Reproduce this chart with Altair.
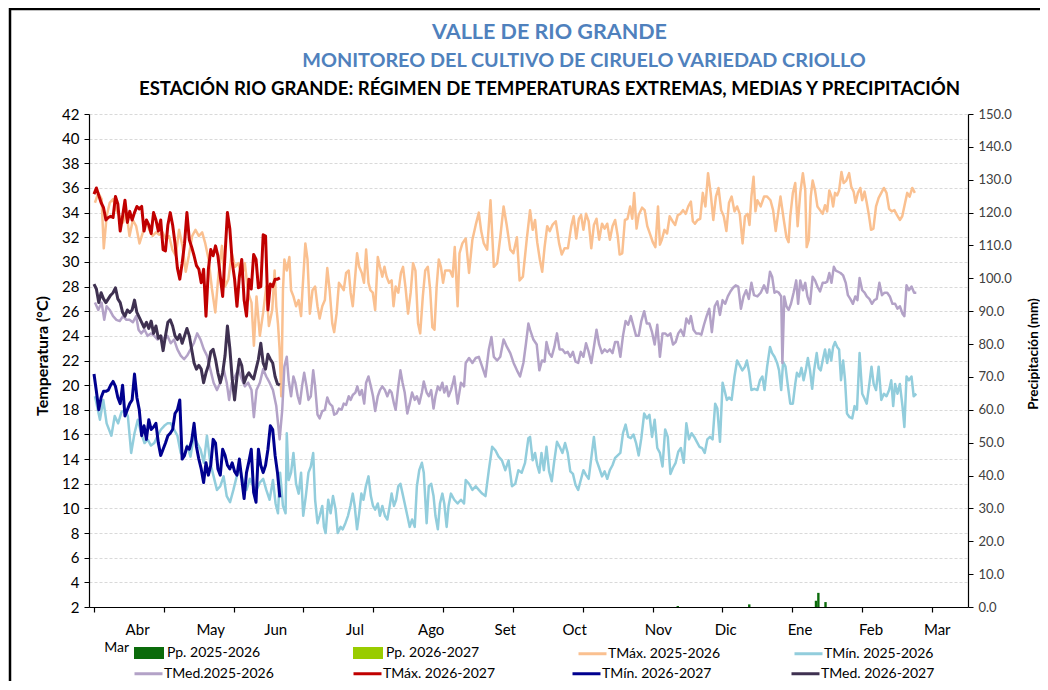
import altair as alt
import pandas as pd

TITLE_1 = "VALLE DE RIO GRANDE"
TITLE_2 = "MONITOREO DEL CULTIVO DE CIRUELO VARIEDAD CRIOLLO"
TITLE_3 = "ESTACIÓN RIO GRANDE: RÉGIMEN DE TEMPERATURAS EXTREMAS, MEDIAS Y PRECIPITACIÓN"

PP_NAMES = ["Pp. 2025-2026", "Pp. 2026-2027"]
ST_NAMES = ["TMáx. 2025-2026", "TMín. 2025-2026"]
CO_NAMES = ["TMed.2025-2026", "TMáx. 2026-2027", "TMín. 2026-2027", "TMed. 2026-2027"]

MONTHS = ["Abr", "May", "Jun", "Jul", "Ago", "Set", "Oct", "Nov", "Dic", "Ene", "Feb", "Mar"]
MONTH_DAY = [18.3, 49.0, 76.3, 109.5, 141.5, 172.6, 201.7, 236.9, 265.1, 296.3, 326.1, 353.9]

# precipitation 2025-2026 (day of season, mm)
PP_DAY = [245, 275, 303, 304, 307]
PP_2526 = [0.3, 0.8, 1.9, 4.3, 1.5]

# 2026-2027 daily series (day 0 onward)
TMAX_2627 = [35.5, 36.0, 35.4, 34.8, 34.4, 33.4, 33.6, 33.7, 33.6, 35.3, 34.7, 32.5, 33.7, 35.0, 33.2, 34.1,
             33.4, 34.0, 34.5, 34.3, 34.5, 32.5, 33.4, 33.0, 32.3, 34.0, 33.4, 32.5, 33.4, 31.0, 30.9, 33.0,
             34.0, 33.0, 31.5, 29.5, 28.6, 29.9, 31.5, 34.0, 31.8, 31.2, 30.5, 29.7, 29.4, 28.3, 29.4, 25.6,
             29.4, 31.0, 30.5, 31.3, 30.5, 28.8, 27.2, 30.6, 34.0, 32.7, 30.0, 28.6, 26.4, 28.8, 30.2, 26.9,
             25.6, 28.6, 27.8, 30.6, 30.2, 27.9, 28.0, 32.2, 32.1, 26.1, 28.2, 28.0, 28.6, 28.6, 28.7]
TMED_2627 = [28.2, 27.8, 26.7, 27.5, 27.0, 26.7, 27.0, 27.3, 27.5, 27.9, 27.0, 26.7, 25.9, 25.6, 26.1, 25.9,
             26.1, 26.9, 25.9, 25.5, 25.1, 24.7, 25.1, 24.6, 25.2, 24.2, 24.8, 23.8, 24.0, 22.8, 24.0, 25.1,
             25.3, 24.8, 24.0, 23.7, 24.1, 23.4, 24.0, 24.6, 24.0, 22.9, 21.8, 21.3, 21.6, 21.3, 20.2, 21.0,
             21.6, 22.7, 22.9, 22.1, 21.0, 20.2, 21.0, 22.4, 24.8, 23.0, 20.5, 18.8, 20.7, 22.1, 21.6, 20.2,
             20.7, 21.0, 20.7, 20.5, 21.3, 22.1, 23.4, 21.8, 21.3, 22.5, 22.1, 21.8, 20.7, 20.1, 20.0]
TMIN_2627 = [20.9, 19.5, 18.0, 19.0, 19.5, 19.5, 19.6, 20.0, 20.3, 19.9, 19.0, 18.5, 20.0, 17.5, 18.0, 18.5,
             18.8, 20.9, 19.0, 18.0, 15.9, 16.7, 15.6, 17.2, 16.4, 16.6, 16.9, 15.3, 14.3, 14.8, 15.3, 15.9,
             16.1, 16.4, 17.7, 18.0, 18.8, 14.0, 14.3, 15.0, 14.8, 15.5, 16.9, 15.0, 14.0, 13.2, 12.1, 13.7,
             12.7, 13.5, 15.6, 15.3, 13.2, 12.7, 14.8, 14.3, 13.5, 13.2, 13.7, 13.0, 12.7, 14.0, 12.4, 10.8,
             12.9, 13.8, 14.8, 11.3, 10.5, 14.8, 13.5, 12.9, 13.5, 14.8, 16.7, 16.4, 14.3, 12.9, 10.9]

# 2025-2026 series as (day of season, °C)
TMAX_2526 = [
    (0.4, 34.8), (1.8, 35.6), (3.2, 35.1), (4.1, 31.1), (5.3, 33.7), (6.6, 34.8), (8.0, 35.1), (9.4, 34.2),
    (10.8, 33.7), (12.2, 33.2), (13.6, 34.0), (14.9, 32.1), (16.3, 33.4), (17.7, 32.9), (19.1, 31.5),
    (20.5, 32.4), (21.9, 33.4), (23.2, 32.6), (24.6, 32.1), (26.0, 32.4), (27.4, 32.2), (28.8, 32.4),
    (30.2, 31.8), (31.5, 32.1), (32.9, 31.0), (34.3, 30.5), (35.7, 32.6), (37.1, 31.3), (38.5, 29.2),
    (39.8, 30.5), (41.2, 32.1), (42.6, 32.6), (44.0, 32.1), (45.4, 32.4), (46.7, 31.5), (48.1, 30.2),
    (49.5, 27.8), (50.9, 25.9), (52.3, 29.1), (53.7, 31.3), (55.0, 28.0), (56.4, 28.6), (57.8, 30.7),
    (59.2, 29.6), (60.6, 29.9), (62.0, 28.8), (63.3, 29.9), (64.7, 27.5), (66.1, 26.7), (67.1, 23.2),
    (68.2, 27.2), (69.6, 24.0), (71.0, 25.9), (72.3, 28.0), (73.4, 24.8), (74.8, 26.1),
    (75.8, 29.3), (76.5, 26.4), (77.2, 25.0), (77.9, 22.9), (78.6, 19.1), (79.3, 27.7), (79.9, 30.2),
    (80.9, 29.3), (82.0, 30.4), (82.7, 27.7), (83.7, 27.2), (84.8, 26.4), (85.9, 26.9), (86.9, 25.6),
    (87.5, 27.7), (88.7, 31.5), (89.6, 30.2), (90.6, 25.8), (91.7, 27.7), (92.8, 28.0), (93.8, 26.4),
    (94.7, 25.4), (95.8, 26.4), (96.9, 26.9), (97.9, 29.5), (98.9, 27.7), (100.0, 25.0), (100.8, 24.3),
    (101.8, 25.8), (102.8, 28.3), (103.9, 28.0), (104.8, 27.7), (105.8, 29.1), (106.9, 29.3),
    (107.7, 27.5), (108.6, 26.4), (109.4, 28.3), (110.4, 30.7), (111.3, 29.6), (112.4, 29.1),
    (113.3, 28.3), (114.2, 31.0), (115.2, 28.3), (116.0, 27.7), (117.0, 27.5), (118.0, 26.1),
    (119.1, 30.4), (120.0, 29.6), (121.0, 28.8), (121.9, 29.6), (122.8, 28.8), (123.8, 28.3),
    (124.9, 28.5), (125.7, 26.4), (126.6, 28.0), (127.7, 27.5), (128.8, 29.1), (129.7, 29.6),
    (130.7, 28.0), (131.8, 25.8), (132.9, 27.5), (133.9, 29.9), (134.9, 29.3), (136.0, 25.0),
    (136.9, 24.2), (138.0, 27.2), (139.0, 29.3), (140.1, 29.6), (141.1, 27.7), (142.0, 24.7),
    (142.9, 24.5), (143.8, 28.0), (144.7, 30.2), (145.6, 29.6), (146.5, 28.3), (147.4, 29.3),
    (148.4, 29.3), (149.4, 29.3), (150.5, 28.8),
    (151.4, 31.2), (152.6, 26.4), (153.4, 30.7), (154.6, 31.5), (156.0, 31.9), (157.4, 29.1),
    (158.8, 31.8), (160.2, 33.0), (161.5, 34.0), (162.5, 32.5), (163.6, 31.5), (165.0, 31.0),
    (166.4, 35.0), (167.8, 29.6), (169.2, 29.9), (170.5, 32.0), (171.9, 34.5), (173.2, 33.0),
    (174.7, 31.0), (176.0, 30.7), (177.5, 32.0), (178.6, 28.5), (180.0, 28.8), (181.6, 31.8),
    (183.0, 34.2), (184.1, 32.6), (185.1, 33.4), (186.0, 31.6), (187.1, 30.2), (188.1, 29.2),
    (189.1, 31.2), (190.2, 32.9), (191.3, 32.5), (192.4, 33.0), (193.8, 33.3), (195.2, 31.5),
    (196.3, 30.6), (197.5, 31.1), (198.9, 31.1), (200.3, 32.9), (201.3, 33.7), (202.4, 31.9),
    (203.5, 33.5), (204.4, 33.8), (205.4, 32.6), (206.5, 33.9), (207.6, 33.3), (208.7, 31.1),
    (209.8, 33.0), (210.9, 33.5), (212.0, 31.8), (213.2, 33.1), (214.3, 32.7), (215.4, 33.1),
    (216.5, 31.8), (217.6, 32.9), (218.7, 33.4), (219.8, 32.1), (220.6, 30.6), (221.7, 30.7),
    (222.8, 33.4), (223.9, 33.5), (225.0, 34.5), (225.9, 33.5), (226.7, 35.6), (227.7, 32.7),
    (228.6, 33.8), (230.0, 34.4), (231.1, 34.2), (232.2, 32.9), (233.3, 32.3), (234.5, 31.6),
    (235.6, 31.2), (236.7, 34.5), (237.5, 31.4), (238.3, 31.8), (239.4, 32.6), (240.5, 32.3),
    (241.6, 33.7), (242.8, 33.3), (243.9, 33.0), (245.0, 33.8), (246.1, 33.9), (247.2, 34.2),
    (248.3, 33.9), (249.4, 34.5), (250.5, 34.9), (251.3, 33.3), (252.2, 33.1), (253.3, 33.4),
    (254.4, 33.5), (255.5, 35.6), (256.6, 34.5), (257.7, 37.2), (258.8, 35.6), (259.9, 33.4),
    (261.0, 35.3), (262.1, 36.0), (263.2, 34.2), (264.3, 33.7), (265.4, 32.5), (266.5, 34.8),
    (267.6, 35.3), (268.8, 34.1), (269.9, 34.5), (271.0, 33.9), (272.2, 31.5), (273.2, 33.7),
    (274.3, 33.9), (275.1, 33.0), (275.9, 35.3), (276.8, 36.9), (277.6, 34.1),
    (278.4, 35.0), (279.8, 34.5), (281.2, 35.3), (282.5, 35.3), (283.9, 35.0), (285.0, 34.2),
    (286.1, 32.5), (287.3, 34.2), (288.1, 35.3), (289.5, 33.4), (290.6, 32.0), (291.5, 31.6),
    (292.2, 33.7), (293.3, 35.6), (294.3, 36.4), (295.3, 32.9), (296.4, 35.6), (297.5, 37.2),
    (298.5, 35.8), (299.1, 31.2), (300.0, 31.8), (300.8, 35.3), (301.6, 36.6), (302.6, 35.8),
    (303.6, 34.5), (304.7, 34.2), (305.8, 33.9), (306.8, 34.6), (307.7, 34.1), (308.6, 35.8),
    (309.5, 35.3), (310.2, 34.5), (311.0, 35.6), (311.9, 35.4), (312.7, 35.8), (313.7, 37.3),
    (314.6, 36.4), (315.7, 36.6), (316.9, 37.2), (317.8, 36.1), (318.8, 35.7), (319.6, 34.8),
    (320.6, 35.6), (321.6, 36.0), (322.4, 35.0), (323.4, 35.7), (324.3, 34.8), (325.2, 33.8),
    (326.1, 32.6), (327.1, 32.7), (328.2, 34.5), (329.3, 35.2), (330.4, 35.6), (331.5, 36.0),
    (332.6, 35.6), (333.7, 34.3), (334.8, 34.1), (335.9, 34.2), (337.0, 33.8), (338.2, 33.4),
    (339.2, 33.7), (340.4, 34.8), (341.3, 35.6), (342.3, 35.3), (343.4, 36.0), (344.5, 35.6),
]

TMED_2526 = [
    (0.4, 26.7), (1.8, 26.1), (3.2, 26.7), (4.3, 25.3), (5.3, 26.4), (6.6, 26.1), (8.0, 25.6), (9.4, 25.3),
    (10.8, 25.2), (12.2, 25.6), (13.6, 25.3), (14.9, 25.3), (16.3, 25.1), (17.7, 25.6), (18.7, 24.5),
    (19.8, 24.2), (21.2, 24.5), (22.5, 24.0), (23.9, 24.2), (25.3, 24.0), (26.7, 23.7), (28.1, 24.0),
    (29.5, 23.7), (30.8, 24.0), (32.2, 23.4), (33.6, 23.7), (35.0, 22.9), (36.4, 22.4), (37.8, 22.1),
    (39.1, 22.4), (40.5, 22.9), (41.9, 23.4), (43.3, 24.2), (44.7, 23.7), (46.1, 22.9), (47.4, 22.4),
    (48.8, 21.3), (50.2, 20.2), (51.6, 19.6), (53.0, 20.2), (54.4, 21.3), (55.7, 20.2), (56.7, 18.8),
    (57.8, 20.2), (59.2, 20.7), (60.6, 21.3), (62.0, 20.5), (63.3, 19.9), (64.7, 20.2), (66.1, 19.6),
    (67.1, 17.4), (68.2, 19.6), (69.6, 20.2), (71.0, 21.3), (72.3, 20.7), (73.7, 20.2), (75.1, 19.6),
    (76.5, 18.3), (77.9, 15.6), (79.0, 18.0), (79.9, 21.5), (80.9, 22.3), (81.7, 20.4), (82.7, 19.1),
    (83.7, 20.7), (84.5, 20.2), (85.5, 19.1), (86.4, 18.5), (87.3, 19.9), (88.2, 21.0), (89.2, 19.9),
    (90.0, 18.8), (91.0, 19.1), (92.0, 21.2), (92.8, 19.9), (93.8, 17.6), (94.7, 17.3), (95.8, 17.9),
    (96.9, 18.0), (97.9, 19.0), (98.9, 18.5), (100.0, 18.3), (100.8, 17.6), (101.8, 17.7), (102.8, 18.1),
    (103.9, 18.0), (104.8, 18.5), (105.8, 18.4), (106.9, 19.1), (107.7, 18.8), (108.6, 19.2),
    (109.7, 19.4), (110.5, 19.9), (111.5, 19.2), (112.4, 19.6), (113.4, 18.5), (114.2, 20.2),
    (115.2, 20.7), (116.2, 19.9), (117.1, 19.1), (118.0, 17.9), (119.1, 19.1), (120.0, 19.6),
    (121.0, 19.9), (122.1, 19.6), (123.1, 19.1), (124.1, 19.6), (124.9, 19.4), (125.9, 18.5),
    (126.6, 18.0), (127.7, 19.9), (128.6, 21.2), (129.5, 20.2), (130.4, 19.4), (131.5, 17.7),
    (132.5, 18.5), (133.5, 19.4), (134.6, 18.8), (135.5, 19.1), (136.5, 18.5), (137.6, 19.4),
    (138.4, 20.3), (139.6, 19.4), (140.5, 19.1), (141.5, 19.6), (142.5, 18.1), (143.3, 19.1),
    (144.3, 19.9), (145.2, 19.6), (146.2, 20.2), (147.0, 19.4), (148.0, 19.9), (148.8, 19.1),
    (149.8, 19.6), (150.8, 20.3),
    (151.2, 20.7), (152.6, 18.5), (154.0, 20.2), (155.3, 19.9), (156.0, 21.8), (157.4, 22.2),
    (158.8, 21.8), (160.2, 22.2), (161.5, 22.3), (162.9, 21.5), (164.3, 20.7), (165.7, 22.9),
    (166.8, 23.9), (167.8, 22.3), (169.2, 22.0), (170.5, 22.3), (171.9, 23.7), (173.3, 23.1),
    (174.7, 22.6), (176.1, 21.8), (177.5, 21.2), (178.8, 20.7), (180.2, 21.8), (181.3, 23.4),
    (182.3, 25.0),
    (183.0, 24.5), (184.4, 23.7), (185.8, 23.3), (186.9, 21.2), (188.0, 22.0), (189.1, 21.9),
    (189.9, 23.5), (191.0, 22.6), (192.1, 22.3), (193.2, 23.1), (194.3, 24.2), (195.4, 22.9),
    (196.6, 22.9), (197.7, 22.6), (198.8, 22.7), (199.9, 22.3), (201.0, 22.7), (202.1, 21.9),
    (203.2, 21.8), (204.3, 22.7), (205.4, 22.3), (206.5, 23.4), (207.6, 22.7), (208.7, 21.8),
    (209.8, 23.1), (210.9, 24.5), (212.0, 23.3), (213.2, 22.6), (214.3, 22.9), (215.4, 22.7),
    (216.5, 22.9), (217.6, 22.6), (218.7, 23.5), (219.8, 23.5), (220.9, 22.3), (222.0, 24.0),
    (223.1, 25.2), (224.2, 24.9), (225.3, 25.6), (226.4, 24.8), (227.5, 24.0), (228.6, 24.0),
    (229.7, 25.2), (230.9, 26.0), (232.0, 25.0), (233.1, 25.0), (234.2, 24.3), (235.3, 23.3),
    (236.4, 24.9), (237.5, 22.3), (238.6, 24.2), (239.7, 24.2), (240.8, 24.0), (241.9, 24.2),
    (243.0, 23.3), (244.1, 23.5), (245.2, 24.2), (246.3, 24.5), (247.5, 24.0), (248.6, 25.4),
    (249.7, 25.0), (250.5, 25.6), (251.6, 24.5), (252.7, 24.2), (253.8, 24.2), (254.9, 24.1),
    (256.0, 24.9), (257.1, 25.6), (258.2, 26.2), (259.3, 24.3), (260.5, 26.4), (261.6, 26.8),
    (262.7, 25.7), (263.8, 26.9), (264.9, 26.6), (266.0, 27.2), (267.1, 27.6), (268.2, 27.9),
    (269.3, 28.1), (270.4, 28.0), (271.5, 26.2), (272.6, 27.2), (273.7, 27.7), (274.8, 27.0),
    (275.9, 28.3), (277.0, 27.3),
    (278.4, 27.2), (279.8, 27.5), (281.2, 28.1), (282.5, 27.5), (283.7, 29.2), (284.6, 28.8),
    (285.6, 27.5), (286.4, 27.6), (287.4, 27.5), (288.4, 27.2), (288.9, 21.8), (289.7, 27.2),
    (290.6, 26.4), (291.5, 26.1), (292.5, 26.6), (293.6, 27.5), (294.7, 28.5), (295.5, 26.6),
    (296.4, 28.5), (297.5, 27.7), (298.5, 28.3), (299.4, 27.2), (300.5, 26.6), (301.6, 28.8),
    (302.6, 28.5), (303.6, 28.0), (304.7, 27.6), (305.8, 28.3), (306.8, 28.3), (307.7, 28.4),
    (308.6, 29.1), (309.5, 28.3), (310.5, 29.6), (311.3, 29.3), (312.3, 29.2), (313.3, 29.1),
    (314.4, 28.9), (315.5, 28.3), (316.4, 27.3), (317.4, 27.0), (318.5, 26.6), (319.5, 27.2),
    (320.4, 26.9), (321.3, 28.7), (322.4, 27.7), (323.4, 27.5), (324.3, 27.2), (325.4, 27.0),
    (326.5, 26.6), (327.5, 26.9), (328.5, 27.0), (329.6, 28.3), (330.7, 27.3), (331.8, 27.5),
    (332.9, 27.5), (334.0, 27.2), (335.1, 26.6), (336.2, 26.6), (337.2, 26.2), (338.2, 26.4),
    (339.3, 25.8), (340.1, 25.6), (341.0, 28.1), (342.0, 27.7), (343.1, 28.0), (344.2, 27.5),
    (345.1, 27.5),
]

TMIN_2526 = [
    (0.4, 19.1), (2.5, 17.2), (3.9, 18.8), (5.3, 16.9), (7.3, 15.9), (8.7, 17.5), (10.1, 16.9),
    (11.5, 17.8), (12.9, 18.0), (14.2, 17.5), (15.6, 14.5), (17.0, 16.1), (18.4, 17.2), (19.8, 16.1),
    (21.2, 15.3), (22.5, 15.6), (23.9, 15.1), (25.3, 15.3), (26.7, 15.9), (28.1, 16.4), (29.5, 16.7),
    (30.8, 16.9), (32.2, 16.9), (33.6, 16.4), (35.0, 15.9), (36.4, 14.5), (37.8, 14.2), (39.1, 15.1),
    (40.5, 14.2), (41.9, 15.9), (43.3, 15.3), (44.7, 14.8), (46.1, 13.7), (47.4, 15.9), (48.8, 13.7),
    (50.2, 12.6), (51.6, 11.5), (53.0, 11.8), (54.4, 12.6), (55.7, 11.0), (57.1, 10.5), (58.5, 11.5),
    (59.9, 12.6), (61.3, 13.2), (62.7, 12.1), (64.0, 11.5), (65.4, 12.4), (66.8, 11.8), (68.2, 11.5),
    (69.6, 12.1), (71.0, 12.4), (72.3, 11.5), (73.7, 10.7),
    (75.1, 12.3), (76.2, 10.4), (77.2, 9.6), (78.1, 12.9), (79.3, 10.2), (80.4, 9.6), (80.9, 16.1),
    (81.7, 12.3), (82.7, 12.9), (83.7, 14.5), (84.8, 12.0), (85.9, 11.2), (86.9, 12.9), (87.8, 9.4),
    (88.9, 11.0), (90.0, 12.9), (91.0, 13.4), (92.0, 14.5), (92.8, 10.7), (93.8, 8.8), (94.7, 9.4),
    (95.8, 10.2), (96.5, 8.5), (97.2, 8.0), (98.3, 10.7), (99.3, 9.6), (100.3, 11.0), (101.4, 9.9),
    (102.3, 8.0), (103.5, 8.5), (104.4, 8.3), (105.5, 8.8), (106.6, 9.4), (107.6, 10.2), (108.6, 11.2),
    (109.4, 10.2), (110.4, 8.3), (111.3, 9.6), (112.2, 11.2), (113.1, 10.7), (114.1, 11.8),
    (115.2, 12.6), (116.2, 11.0), (117.1, 10.2), (118.0, 9.9), (119.1, 10.4), (120.0, 9.4),
    (121.0, 10.2), (122.1, 9.4), (123.1, 9.1), (124.1, 10.2), (124.9, 11.2), (125.9, 10.2),
    (126.8, 10.7), (127.7, 11.8), (128.6, 12.0), (129.5, 11.2), (130.4, 10.4), (131.5, 9.4),
    (132.5, 8.5), (133.5, 9.1), (134.6, 8.5), (135.5, 11.8), (136.5, 13.1), (137.6, 13.7),
    (138.4, 12.9), (139.6, 8.8), (140.5, 11.8), (141.5, 12.0), (142.5, 11.0), (143.3, 9.4),
    (144.3, 8.3), (145.2, 10.4), (146.2, 11.2), (147.0, 10.4), (148.0, 8.5), (148.8, 10.2),
    (149.8, 11.2), (151.2, 10.7), (152.6, 10.4), (154.0, 10.7), (155.3, 10.4), (156.0, 12.3),
    (157.4, 12.0), (158.8, 11.5), (160.2, 11.8), (161.5, 11.5), (162.9, 11.2), (164.3, 11.0),
    (165.7, 13.1), (167.1, 15.0), (168.5, 14.7), (169.8, 14.2), (171.2, 13.9), (172.6, 13.1),
    (174.0, 13.9), (175.4, 11.8), (176.8, 12.0), (178.1, 13.1), (179.5, 12.9), (180.9, 13.7),
    (182.3, 15.7),
    (183.0, 15.8), (184.1, 13.9), (185.1, 14.5), (186.0, 13.5), (186.9, 12.9), (187.8, 14.5),
    (188.8, 13.1), (189.9, 15.0), (191.0, 13.0), (192.1, 12.2), (193.2, 13.9), (194.3, 15.4),
    (195.4, 15.0), (196.6, 14.5), (197.7, 15.3), (198.8, 14.5), (199.9, 13.0), (201.0, 12.8),
    (202.1, 11.9), (203.2, 11.5), (204.3, 12.3), (205.4, 13.1), (206.5, 12.7), (207.6, 12.4),
    (208.7, 14.1), (209.8, 15.8), (210.9, 13.9), (212.0, 13.3), (213.2, 12.6), (214.3, 13.0),
    (215.4, 12.4), (216.5, 13.1), (217.6, 13.5), (218.7, 14.1), (219.8, 14.3), (220.9, 14.5),
    (222.0, 16.1), (223.1, 16.8), (224.2, 15.8), (225.3, 15.7), (226.4, 16.0), (227.5, 15.3),
    (228.6, 14.3), (229.7, 15.7), (230.9, 17.7), (232.0, 17.3), (233.1, 17.6), (234.2, 15.8),
    (235.3, 17.2), (236.4, 14.9), (237.5, 14.5), (238.6, 13.4), (239.7, 16.4), (240.8, 15.8),
    (241.9, 12.8), (243.0, 13.3), (244.1, 13.7), (245.2, 14.6), (246.3, 14.9), (247.5, 13.7),
    (248.6, 16.9), (249.7, 15.6), (250.8, 16.1), (251.9, 15.8), (253.0, 15.4), (254.1, 15.0),
    (255.2, 14.9), (256.3, 14.5), (257.4, 15.6), (258.5, 15.8), (259.6, 15.6), (260.7, 18.5),
    (261.6, 18.1), (262.7, 15.4), (263.8, 20.2), (264.6, 19.6), (265.6, 18.8), (266.5, 19.0),
    (267.6, 18.8), (268.8, 20.7), (269.9, 22.0), (271.0, 21.6), (272.1, 21.2), (273.2, 21.5),
    (274.0, 22.0), (275.0, 21.0), (275.9, 19.6), (277.1, 19.7),
    (278.4, 19.6), (279.5, 20.4), (280.5, 20.7), (281.4, 19.6), (282.5, 21.5), (283.7, 23.1),
    (284.6, 22.6), (285.6, 22.3), (286.7, 21.8), (287.5, 21.2), (288.4, 19.6), (289.2, 21.9),
    (290.2, 21.5), (291.1, 20.1), (292.2, 18.5), (293.3, 18.5), (294.3, 20.1), (295.0, 21.0),
    (296.0, 20.7), (296.9, 21.4), (297.8, 20.4), (298.7, 21.2), (299.6, 22.2), (300.5, 21.2),
    (301.4, 19.7), (302.2, 21.2), (303.3, 22.6), (304.1, 21.4), (305.0, 21.2), (305.8, 22.0),
    (306.8, 22.9), (307.7, 21.8), (308.6, 22.9), (309.4, 22.0), (310.2, 23.1), (311.0, 23.5),
    (311.9, 23.1), (312.7, 22.9), (313.5, 20.4), (314.4, 22.0), (315.2, 20.4), (316.0, 17.7),
    (317.1, 17.4), (318.2, 17.3), (319.2, 18.3), (320.2, 18.0), (321.3, 22.6), (322.4, 19.3),
    (323.4, 18.9), (324.3, 18.5), (325.4, 20.1), (326.3, 21.5), (327.2, 20.1), (328.2, 19.6),
    (329.3, 21.5), (330.4, 18.8), (331.5, 19.3), (332.6, 19.1), (333.7, 19.6), (334.6, 20.4),
    (335.4, 18.3), (336.2, 20.1), (337.2, 19.3), (338.2, 20.1), (339.3, 18.3), (340.1, 16.6),
    (341.0, 20.7), (342.0, 20.4), (343.1, 20.7), (344.0, 19.1), (345.1, 19.3),
]

# ---------------- layout ----------------
W, H = 879, 493
PAD_L, PAD_T = 81, 106
X_MAX = 364.7
TICKS = [round(29.3 * i, 1) for i in range(13)]

COLORS_PP = ["#0b6b0b", "#99cc00"]
COLORS_ST = ["#fac090", "#92cddc"]
COLORS_CO = ["#b3a2c7", "#c00000", "#00008f", "#3f3151"]

FONT = "Lato"


def pairs_df(pairs, name):
    return pd.DataFrame(pairs, columns=["dia", "temp"]).assign(serie=name)


def daily_df(vals, name):
    return pd.DataFrame({"dia": list(range(len(vals))), "temp": vals, "serie": name})


df_pp = pd.DataFrame({"dia": PP_DAY, "pp": PP_2526, "serie": PP_NAMES[0]})
df_st = pd.concat([pairs_df(TMAX_2526, ST_NAMES[0]), pairs_df(TMIN_2526, ST_NAMES[1])])
df_med = pairs_df(TMED_2526, CO_NAMES[0])
df_2627 = pd.concat([daily_df(TMAX_2627, CO_NAMES[1]), daily_df(TMIN_2627, CO_NAMES[2]),
                     daily_df(TMED_2627, CO_NAMES[3])])
df_months = pd.DataFrame({"dia": MONTH_DAY, "mes": MONTHS})

x_enc = alt.X("dia:Q",
              scale=alt.Scale(domain=[0, X_MAX], nice=False, zero=False),
              axis=alt.Axis(values=TICKS, labels=False, ticks=True, tickSize=5, tickColor="#000",
                            tickWidth=1.2, domainColor="#000", domainWidth=1.2, grid=False, title=None))

temp_scale = alt.Scale(domain=[2, 42], nice=False, zero=False)
temp_axis = alt.Axis(orient="left", values=list(range(2, 43, 2)), grid=True, gridColor="#d9d9d9",
                     gridDash=[3, 2], gridWidth=1, labelFontSize=15, labelColor="#000", labelPadding=5,
                     tickSize=5, tickColor="#000", domainColor="#000", domainWidth=1.2,
                     title="Temperatura (°C)", titleFontSize=16, titleFontWeight="bold", titleColor="#000",
                     titleX=-47, titleY=H / 2 - 5, titleAlign="center", titleBaseline="middle",
                     titleAngle=270)
y_temp = alt.Y("temp:Q", scale=temp_scale, axis=temp_axis)

fill_legend = alt.Legend(orient="none", legendX=53, legendY=532, direction="horizontal", columns=2,
                         title=None, symbolType="M-2.5,-1H2.5V1H-2.5Z", symbolSize=144,
                         symbolStrokeWidth=0, labelOffset=11, labelFontSize=14, labelColor="#000",
                         columnPadding=92, gridAlign="all", symbolOpacity=1)
stroke_legend = alt.Legend(orient="none", legendX=488, legendY=524, direction="horizontal", columns=2,
                           title=None, symbolType="stroke", symbolSize=784, symbolStrokeWidth=3,
                           labelOffset=0, labelFontSize=14, labelColor="#000", columnPadding=67,
                           gridAlign="all")
color_legend = alt.Legend(orient="none", legendX=44, legendY=544, direction="horizontal", columns=4,
                          title=None, symbolType="stroke", symbolSize=784, symbolStrokeWidth=3,
                          labelOffset=0, labelFontSize=14, labelColor="#000", columnPadding=69,
                          gridAlign="all")

bars = alt.Chart(df_pp).mark_bar(width=2.4).encode(
    x=x_enc,
    y=alt.Y("pp:Q", scale=alt.Scale(domain=[0, 150], nice=False),
            axis=alt.Axis(orient="right", values=list(range(0, 151, 10)), format=".1f", grid=False,
                          labelFontSize=13, labelColor="#404040", labelPadding=5, tickSize=5,
                          tickColor="#000", domainColor="#000", domainWidth=1.2,
                          title="Precipitación (mm)", titleFontSize=13.5, titleFontWeight="bold",
                          titleColor="#000", titleAngle=270, titleX=65, titleY=H / 2 - 7,
                          titleAlign="center", titleBaseline="middle")),
    fill=alt.Fill("serie:N", scale=alt.Scale(domain=PP_NAMES, range=COLORS_PP), legend=fill_legend),
)

lines_st = alt.Chart(df_st).mark_line(strokeWidth=2.5, strokeJoin="round").encode(
    x=x_enc, y=y_temp,
    stroke=alt.Stroke("serie:N", scale=alt.Scale(domain=ST_NAMES, range=COLORS_ST), legend=stroke_legend),
)

color_scale = alt.Scale(domain=CO_NAMES, range=COLORS_CO)
line_med = alt.Chart(df_med).mark_line(strokeWidth=2.5, strokeJoin="round").encode(
    x=x_enc, y=y_temp,
    color=alt.Color("serie:N", scale=color_scale, legend=color_legend),
)
lines_2627 = alt.Chart(df_2627).mark_line(strokeWidth=3, strokeJoin="round").encode(
    x=x_enc, y=y_temp,
    color=alt.Color("serie:N", scale=color_scale, legend=color_legend),
)

month_text = alt.Chart(df_months).mark_text(fontSize=15, color="#000", baseline="middle",
                                            align="center", font=FONT).encode(
    x=x_enc, y=alt.value(516), text="mes:N")
mar_text = alt.Chart(pd.DataFrame({"dia": [9.5], "mes": ["Mar"]})).mark_text(
    fontSize=14, color="#000", baseline="middle", align="center", font=FONT).encode(
    x=x_enc, y=alt.value(534), text="mes:N")

temps = alt.layer(lines_st, line_med, lines_2627, month_text, mar_text)


def title_layer(txt, cx, cy, size, color):
    return alt.Chart(alt.Data(values=[{"t": txt}])).mark_text(
        fontSize=size, fontWeight="bold", color=color, font=FONT, align="center",
        baseline="middle").encode(text="t:N", x=alt.value(cx), y=alt.value(cy))


t1 = title_layer(TITLE_1, 460.5, -81, 21.5, "#4f81bd")
t2 = title_layer(TITLE_2, 495, -53, 19.8, "#4f81bd")
t3 = title_layer(TITLE_3, 460.5, -25, 18.6, "#000")

frame = alt.Chart(alt.Data(values=[{"a": 1}])).mark_rect(
    fillOpacity=0, stroke="#000", strokeWidth=2.5).encode(
    x=alt.value(-79), x2=alt.value(1000), y=alt.value(-105), y2=alt.value(620))

chart = alt.layer(bars, temps, frame, t1, t2, t3).resolve_scale(y="independent").properties(
    width=W, height=H,
    padding={"left": PAD_L, "top": PAD_T, "right": 72, "bottom": 74},
    autosize=alt.AutoSizeParams(type="none"),
    background="white",
).configure_view(stroke=None).configure_axis(labelFont=FONT, titleFont=FONT).configure_legend(
    labelFont=FONT).configure_text(font=FONT)

chart.save("out.html", embed_options={"renderer": "svg", "actions": False})
